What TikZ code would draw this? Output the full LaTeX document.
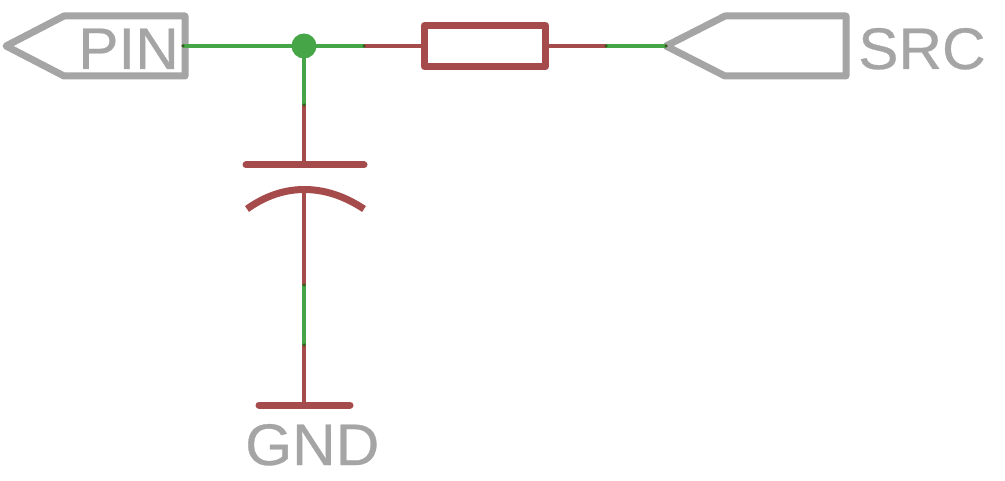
\documentclass[tikz,border=0pt]{standalone}
\usepackage{fontspec}
\setmainfont{Liberation Sans}
\newfontfamily\labelfont[FakeStretch=1.03,FakeBold=0.5]{Liberation Sans}
\definecolor{wirered}{HTML}{A54B4B}
\definecolor{wiregreen}{HTML}{46A546}
\definecolor{pingray}{HTML}{A5A5A5}
\definecolor{joindark}{HTML}{3A5A22}
\tikzset{
  x=1pt,y=-1pt,
  pinshape/.style={draw=pingray,line width=7pt,line join=round},
  pinlabel/.style={text=pingray,font=\labelfont\fontsize{58.6pt}{60pt}\selectfont,inner sep=0pt,anchor=base west},
  greenwire/.style={draw=wiregreen,line width=4.5pt},
  redwire/.style={draw=wirered,line width=4.5pt},
  redbody/.style={draw=wirered,line width=7pt,line join=round},
  plate/.style={draw=wirered,line width=7pt,line cap=round},
  junction/.style={circle,fill=wiregreen,minimum size=25pt,inner sep=0pt},
  joinmark/.style={circle,fill=joindark,minimum size=3.5pt,inner sep=0pt}
}
\begin{document}
\begin{tikzpicture}
\useasboundingbox (0,0) rectangle (1005,481);
% anchor points
\coordinate (pinport) at (183,46);
\coordinate (rleftlead) at (364,46);
\coordinate (rleft) at (424.5,46);
\coordinate (rright) at (545.5,46);
\coordinate (rrightlead) at (606,46);
\coordinate (srcport) at (666,46);
\coordinate (capjoin) at (304,105);
\coordinate (platea) at (304,165);
\coordinate (plateb) at (304,188);
\coordinate (capjoinb) at (304,285);
\coordinate (gndjoin) at (304,345);
\coordinate (gndbar) at (304,405);
% pins
\draw[pinshape] (6,46) -- (64,16) -- (185,16) -- (185,76) -- (64,76) -- cycle;
\draw[pinshape] (666,46) -- (725,16) -- (846,16) -- (846,76) -- (725,76) -- cycle;
% wires
\node[junction] (dot) at (304,46) {};
\draw[greenwire] (pinport) -- (dot.center) -- (rleftlead);
\draw[greenwire] (dot.center) -- (capjoin);
\draw[greenwire] (rrightlead) -- (srcport);
\draw[greenwire] (capjoinb) -- (gndjoin);
\draw[redwire] (rleftlead) -- (rleft);
\draw[redwire] (rright) -- (rrightlead);
\draw[redwire] (capjoin) -- (platea);
\draw[redwire] (plateb) -- (capjoinb);
\draw[redwire] (gndjoin) -- (gndbar);
% resistor
\draw[redbody] (424.5,25.5) rectangle (545.5,66.5);
% capacitor
\draw[plate] (246,165) -- (364,165);
\draw[draw=wirered,line width=7pt] (247,209) .. controls (283,183) and (325,183) .. (364,209);
% ground bar
\draw[plate] (259,405) -- (350,405);
% join marks
\foreach \p/\n in {pinport/a,rleftlead/b,rrightlead/c,srcport/d,capjoin/e,capjoinb/f,gndjoin/g}
  \node[joinmark] (mark\n) at (\p) {};
% labels
\node[pinlabel] (pintext) at (78,69) {PIN};
\node[pinlabel] (srctext) at (858,69) {SRC};
\node[pinlabel] (gndtext) at (245,465) {GND};
\end{tikzpicture}
\end{document}
